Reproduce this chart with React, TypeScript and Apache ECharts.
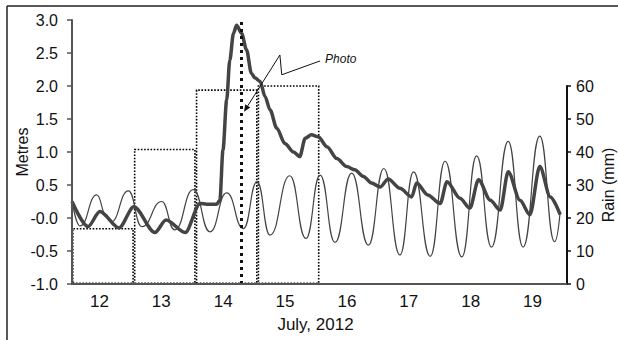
import React, { useEffect, useRef } from "react";
import * as echarts from "echarts";

const dayLabels = ["12", "13", "14", "15", "16", "17", "18", "19"];
const rainMm = [17, 41, 59, 61, 0, 0, 0, 0];

const levelDays = [
  12.0, 12.26, 12.45, 12.76, 13.0, 13.34, 13.52, 13.83, 14.07, 14.18, 14.34, 14.39, 14.44, 14.5, 14.55,
  14.61, 14.66, 14.74, 14.82, 14.9, 14.96, 15.04, 15.12, 15.2, 15.31, 15.44, 15.58, 15.68, 15.77, 15.87,
  15.98, 16.12, 16.28, 16.44, 16.57, 16.71, 16.84, 16.98, 17.11, 17.3, 17.49, 17.57, 17.75, 17.95, 18.06,
  18.27, 18.43, 18.57, 18.76, 18.92, 19.05, 19.24, 19.4, 19.56, 19.73, 19.89,
];
const levelMetres = [
  0.25, -0.13, 0.1, -0.15, 0.17, -0.22, -0.03, -0.22, 0.22, 0.21, 0.21, 0.27, 1.03, 1.79, 2.39,
  2.8, 2.92, 2.8, 2.55, 2.19, 2.12, 2.07, 1.84, 1.64, 1.36, 1.13, 1.0, 0.93, 1.21, 1.26,
  1.23, 1.08, 0.9, 0.78, 0.73, 0.63, 0.53, 0.47, 0.59, 0.45, 0.32, 0.53, 0.35, 0.22, 0.55,
  0.3, 0.15, 0.58, 0.27, 0.12, 0.7, 0.27, 0.05, 0.78, 0.32, 0.05,
];

const tideDays = [
  12.0, 12.13, 12.4, 12.55, 12.63, 12.91, 13.13, 13.45, 13.66, 13.96, 14.23, 14.5, 14.77, 14.99, 15.2,
  15.52, 15.78, 16.01, 16.25, 16.52, 16.79, 17.04, 17.3, 17.52, 17.79, 18.03, 18.3, 18.54, 18.78, 19.05,
  19.29, 19.56, 19.8, 19.89,
];
const tideMetres = [
  0.27, -0.12, 0.35, 0.05, -0.06, 0.41, -0.13, 0.25, -0.18, 0.43, -0.21, 0.38, -0.16, 0.55, -0.26,
  0.64, -0.31, 0.65, -0.37, 0.68, -0.41, 0.75, -0.56, 0.7, -0.58, 0.86, -0.59, 0.94, -0.44, 1.16,
  -0.44, 1.24, -0.36, 0.1,
];

const photoDay = 14.74;
const photoLabel = "Photo";
const arrowTip: [number, number] = [14.78, 1.61];
const bendTop: [number, number] = [15.36, 2.47];
const bendBottom: [number, number] = [15.39, 2.17];
const lineEnd: [number, number] = [16.01, 2.38];

const FONT = "'Liberation Sans', Arial, sans-serif";
const TEXT = "#111";

export default function App() {
  const ref = useRef<HTMLDivElement>(null);
  useEffect(() => {
    if (!ref.current) return;
    const chart = echarts.init(ref.current, undefined, { renderer: "svg" });
    const level = levelDays.map((d, i) => [d, levelMetres[i]]);
    const tide = tideDays.map((d, i) => [d, tideMetres[i]]);
    chart.setOption({
      animation: false,
      backgroundColor: "#fff",
      textStyle: { fontFamily: FONT },
      grid: [
        { left: 72, right: 51, top: 20, bottom: 56, outerBoundsMode: "none", containLabel: false },
        { left: 72, right: 51, top: 86, bottom: 56, outerBoundsMode: "none", containLabel: false },
      ],
      xAxis: [
        { type: "value", gridIndex: 0, min: 12, max: 20, show: false },
        {
          type: "category",
          gridIndex: 1,
          data: dayLabels,
          boundaryGap: true,
          z: 10,
          axisLine: { lineStyle: { color: "#555", width: 2 } },
          axisTick: { length: 4, lineStyle: { color: "#555", width: 1.5 } },
          axisLabel: { color: TEXT, fontSize: 17, margin: 9, fontFamily: FONT, padding: [0, 7, 0, 0] },
          name: "July, 2012",
          nameLocation: "middle",
          nameGap: 32,
          nameMoveOverlap: false,
          nameTextStyle: { color: TEXT, fontSize: 17, fontFamily: FONT, padding: [0, 8, 0, 0] },
        },
      ],
      yAxis: [
        {
          type: "value",
          gridIndex: 0,
          min: -1,
          max: 3,
          interval: 0.5,
          z: 10,
          splitLine: { show: false },
          axisLine: { show: true, lineStyle: { color: "#555", width: 2 } },
          axisTick: { show: true, length: 5, lineStyle: { color: "#555", width: 1.5 } },
          axisLabel: {
            color: TEXT,
            fontSize: 16,
            margin: 14,
            fontFamily: FONT,
            formatter: (v: number) => (Math.abs(v) < 1e-9 ? "-0.0" : v.toFixed(1)),
          },
          name: "Metres",
          nameLocation: "middle",
          nameGap: 42,
          nameMoveOverlap: false,
          nameRotate: 90,
          nameTextStyle: { color: TEXT, fontSize: 16, fontFamily: FONT },
        },
        {
          type: "value",
          gridIndex: 1,
          position: "right",
          min: 0,
          max: 60,
          interval: 10,
          z: 10,
          splitLine: { show: false },
          axisLine: { show: true, lineStyle: { color: "#111", width: 2 } },
          axisTick: { show: true, length: 4, lineStyle: { color: "#111", width: 1.5 } },
          axisLabel: { color: TEXT, fontSize: 16, margin: 9, fontFamily: FONT },
          name: "Rain (mm)",
          nameLocation: "middle",
          nameGap: 33,
          nameMoveOverlap: false,
          nameRotate: 90,
          nameTextStyle: { color: TEXT, fontSize: 16, fontFamily: FONT },
        },
      ],
      series: [
        {
          type: "bar",
          xAxisIndex: 1,
          yAxisIndex: 1,
          data: rainMm,
          barCategoryGap: "0%",
          itemStyle: {
            color: "rgba(0,0,0,0)",
            borderColor: "#000",
            borderWidth: 1.6,
            borderType: "dotted",
          },
          z: 1,
        },
        {
          type: "line",
          xAxisIndex: 0,
          yAxisIndex: 0,
          data: tide,
          showSymbol: false,
          smooth: 0.5,
          smoothMonotone: "x",
          lineStyle: { color: "#444", width: 1.2 },
          z: 2,
        },
        {
          type: "line",
          xAxisIndex: 0,
          yAxisIndex: 0,
          data: level,
          showSymbol: false,
          smooth: 0.3,
          smoothMonotone: "x",
          lineStyle: { color: "#444", width: 3.5 },
          z: 3,
          markLine: {
            silent: true,
            symbol: "none",
            label: { show: false },
            lineStyle: { color: "#111", width: 3, type: [3, 4] },
            data: [{ xAxis: photoDay }],
          },
        },
      ],
    });

    const px = (p: [number, number]) =>
      chart.convertToPixel({ xAxisIndex: 0, yAxisIndex: 0 }, p) as number[];
    const tip = px(arrowTip);
    const bt = px(bendTop);
    const bb = px(bendBottom);
    const le = px(lineEnd);
    const dx = tip[0] - bt[0];
    const dy = tip[1] - bt[1];
    const len = Math.hypot(dx, dy);
    const ux = dx / len;
    const uy = dy / len;
    const bx = tip[0] - ux * 7;
    const by = tip[1] - uy * 7;
    const nx = -uy * 3;
    const ny = ux * 3;

    chart.setOption({
      graphic: [
        {
          type: "line",
          shape: { x1: 7, y1: 6, x2: 618, y2: 6 },
          style: { stroke: "#222", lineWidth: 1.5 },
        },
        {
          type: "line",
          shape: { x1: 7, y1: 6, x2: 7, y2: 340 },
          style: { stroke: "#222", lineWidth: 1.5 },
        },
        {
          type: "polyline",
          shape: { points: [le, bb, bt, [bx, by]] },
          style: { stroke: "#111", lineWidth: 1, fill: null },
          z: 20,
        },
        {
          type: "polygon",
          shape: { points: [tip, [bx + nx, by + ny], [bx - nx, by - ny]] },
          style: { fill: "#111" },
          z: 20,
        },
        {
          type: "text",
          x: le[0] + 5,
          y: le[1] - 2,
          style: {
            text: photoLabel,
            fill: TEXT,
            font: `italic 12px ${FONT}`,
            verticalAlign: "middle",
            align: "left",
          },
          z: 20,
        },
      ],
    });

    return () => chart.dispose();
  }, []);
  return <div ref={ref} style={{ width: 618, height: 340, position: "absolute", left: 0, top: 0 }} />;
}
